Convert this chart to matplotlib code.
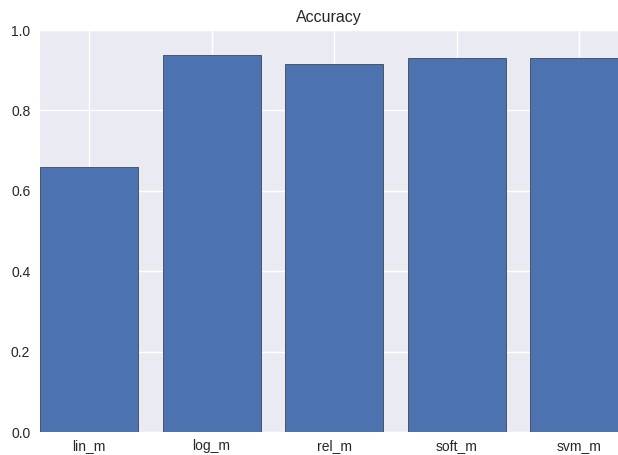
import matplotlib
matplotlib.use('Agg')
import matplotlib.pyplot as plt
import numpy as np

# Model accuracy values
models = ['lin_m', 'log_m', 'rel_m', 'soft_m', 'svm_m']
accuracy = [0.659, 0.937, 0.916, 0.930, 0.930]

plt.rcParams['font.family'] = ['Liberation Sans', 'DejaVu Sans']

fig = plt.figure(figsize=(6.18, 4.55), dpi=100)
ax = fig.add_axes([40 / 618, 23 / 455, 578 / 618, 402 / 455])
ax.set_facecolor('#EAEAF2')
for s in ax.spines.values():
    s.set_visible(False)
ax.set_axisbelow(True)
ax.grid(True, color='white', linewidth=1)

x = np.arange(len(models))
ax.bar(x, accuracy, width=0.8, align='edge', color='#4C72B0',
       edgecolor='#4a5566', linewidth=0.7)
ax.set_xticks(x + 0.4)
ax.set_xticklabels(models)
ax.set_xlim(0, 578 / 122.5)
ax.set_ylim(0, 1.0)
ax.set_yticks([0.0, 0.2, 0.4, 0.6, 0.8, 1.0])
ax.tick_params(length=0, labelsize=10, labelcolor='#262626')
ax.tick_params(axis='x', pad=5)
ax.tick_params(axis='y', pad=7)
ax.set_title('Accuracy', fontsize=11.5, color='#262626', pad=6)

fig.savefig('out.png', dpi=100)
